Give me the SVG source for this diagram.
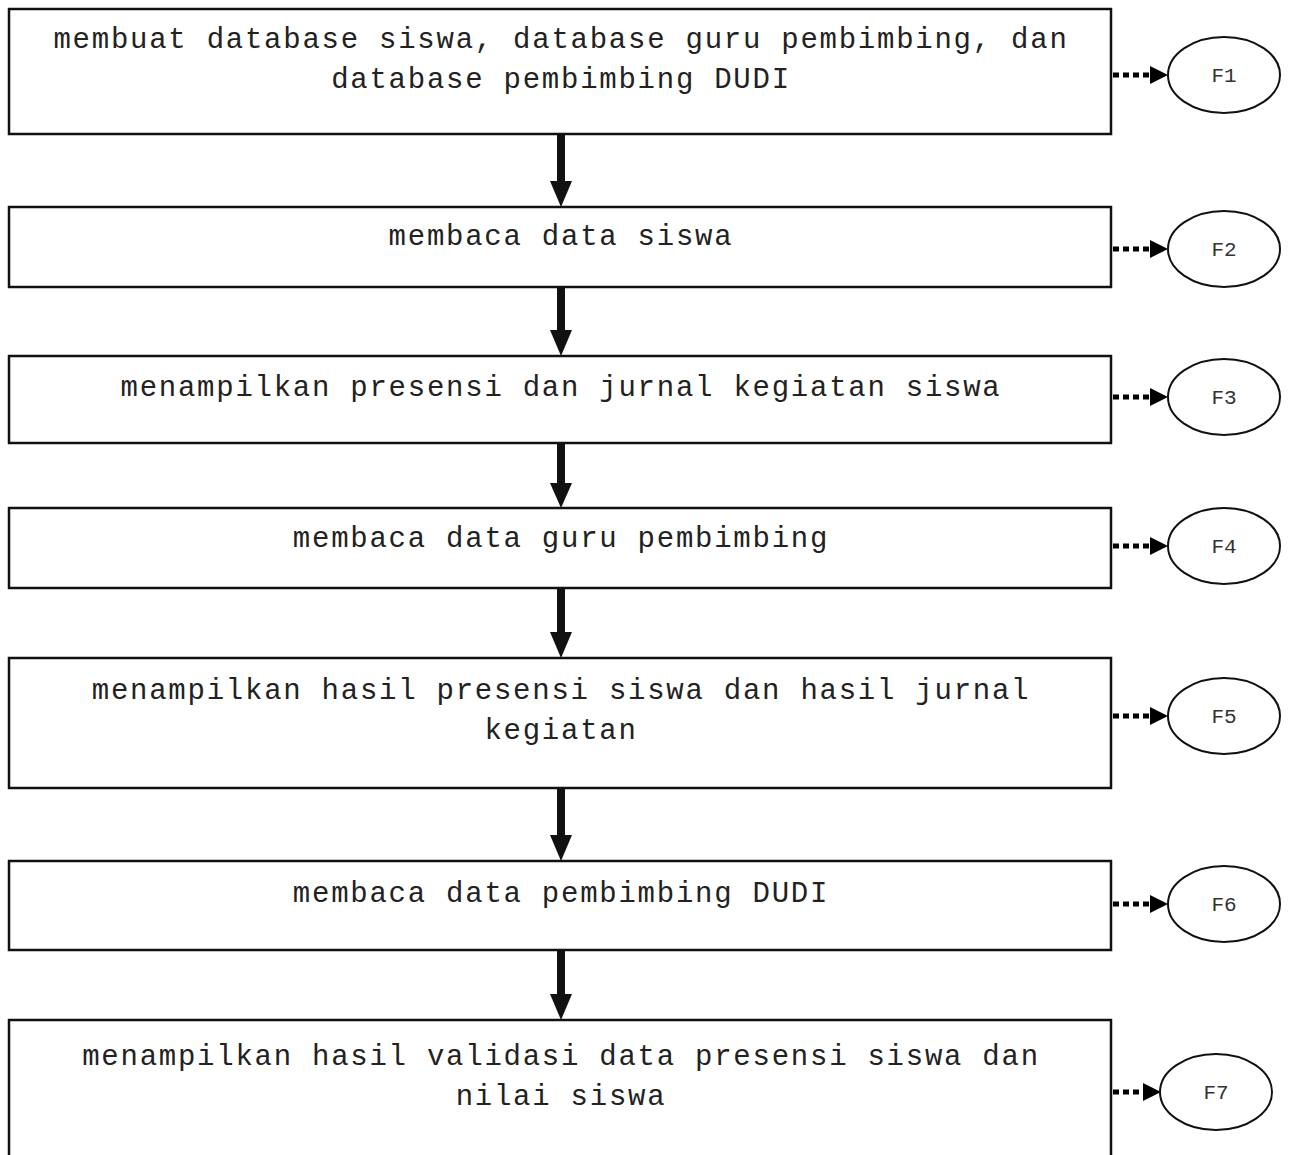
<svg xmlns="http://www.w3.org/2000/svg" width="1291" height="1155" viewBox="0 0 1291 1155">
<style>
.box{fill:#fff;stroke:#111;stroke-width:2.5}
.t{font-family:"Liberation Mono","Courier New",monospace;font-size:29px;letter-spacing:1.75px;fill:#222;text-anchor:middle}
.f{font-family:"Liberation Mono","Courier New",monospace;font-size:21px;fill:#333;text-anchor:middle}
.el{fill:#fff;stroke:#111;stroke-width:2}
.flow{stroke:#111;stroke-width:8;fill:none}
.dot{stroke:#000;stroke-width:5;stroke-dasharray:6 4;fill:none}
.ah{fill:#111}
</style>
<g id="connectors">
<line class="flow" x1="561" y1="134" x2="561" y2="182"/>
<path class="ah" d="M550 181 L572 181 L561 207 Z"/>
<line class="flow" x1="561" y1="287" x2="561" y2="331"/>
<path class="ah" d="M550 330 L572 330 L561 356 Z"/>
<line class="flow" x1="561" y1="443" x2="561" y2="484"/>
<path class="ah" d="M550 483 L572 483 L561 508 Z"/>
<line class="flow" x1="561" y1="588" x2="561" y2="633"/>
<path class="ah" d="M550 632 L572 632 L561 658 Z"/>
<line class="flow" x1="561" y1="788" x2="561" y2="836"/>
<path class="ah" d="M550 835 L572 835 L561 861 Z"/>
<line class="flow" x1="561" y1="950" x2="561" y2="995"/>
<path class="ah" d="M550 994 L572 994 L561 1020 Z"/>
<line class="dot" x1="1113" y1="75" x2="1152" y2="75"/><path d="M1150 66 L1168 75 L1150 84 Z"/>
<line class="dot" x1="1113" y1="249" x2="1152" y2="249"/><path d="M1150 240 L1168 249 L1150 258 Z"/>
<line class="dot" x1="1113" y1="397" x2="1152" y2="397"/><path d="M1150 388 L1168 397 L1150 406 Z"/>
<line class="dot" x1="1113" y1="546" x2="1152" y2="546"/><path d="M1150 537 L1168 546 L1150 555 Z"/>
<line class="dot" x1="1113" y1="716" x2="1152" y2="716"/><path d="M1150 707 L1168 716 L1150 725 Z"/>
<line class="dot" x1="1113" y1="904" x2="1152" y2="904"/><path d="M1150 895 L1168 904 L1150 913 Z"/>
<line class="dot" x1="1113" y1="1092" x2="1145" y2="1092"/><path d="M1143 1083 L1161 1092 L1143 1101 Z"/>
</g>
<g id="n1"><rect class="box" x="9" y="9" width="1102" height="125"/><text class="t" x="561" y="48">membuat database siswa, database guru pembimbing, dan</text><text class="t" x="561" y="88">database pembimbing DUDI</text></g>
<g id="n2"><rect class="box" x="9" y="207" width="1102" height="80"/><text class="t" x="561" y="245">membaca data siswa</text></g>
<g id="n3"><rect class="box" x="9" y="356" width="1102" height="87"/><text class="t" x="561" y="396">menampilkan presensi dan jurnal kegiatan siswa</text></g>
<g id="n4"><rect class="box" x="9" y="508" width="1102" height="80"/><text class="t" x="561" y="547">membaca data guru pembimbing</text></g>
<g id="n5"><rect class="box" x="9" y="658" width="1102" height="130"/><text class="t" x="561" y="699">menampilkan hasil presensi siswa dan hasil jurnal</text><text class="t" x="561" y="739">kegiatan</text></g>
<g id="n6"><rect class="box" x="9" y="861" width="1102" height="89"/><text class="t" x="561" y="902">membaca data pembimbing DUDI</text></g>
<g id="n7"><rect class="box" x="9" y="1020" width="1102" height="145"/><text class="t" x="561" y="1065">menampilkan hasil validasi data presensi siswa dan</text><text class="t" x="561" y="1105">nilai siswa</text></g>
<g id="F1"><ellipse class="el" cx="1224" cy="75" rx="56" ry="38"/><text class="f" x="1224" y="82">F1</text></g>
<g id="F2"><ellipse class="el" cx="1224" cy="249" rx="56" ry="38"/><text class="f" x="1224" y="256">F2</text></g>
<g id="F3"><ellipse class="el" cx="1224" cy="397" rx="56" ry="38"/><text class="f" x="1224" y="404">F3</text></g>
<g id="F4"><ellipse class="el" cx="1224" cy="546" rx="56" ry="38"/><text class="f" x="1224" y="553">F4</text></g>
<g id="F5"><ellipse class="el" cx="1224" cy="716" rx="56" ry="38"/><text class="f" x="1224" y="723">F5</text></g>
<g id="F6"><ellipse class="el" cx="1224" cy="904" rx="56" ry="38"/><text class="f" x="1224" y="911">F6</text></g>
<g id="F7"><ellipse class="el" cx="1216" cy="1092" rx="56" ry="38"/><text class="f" x="1216" y="1099">F7</text></g>
</svg>
